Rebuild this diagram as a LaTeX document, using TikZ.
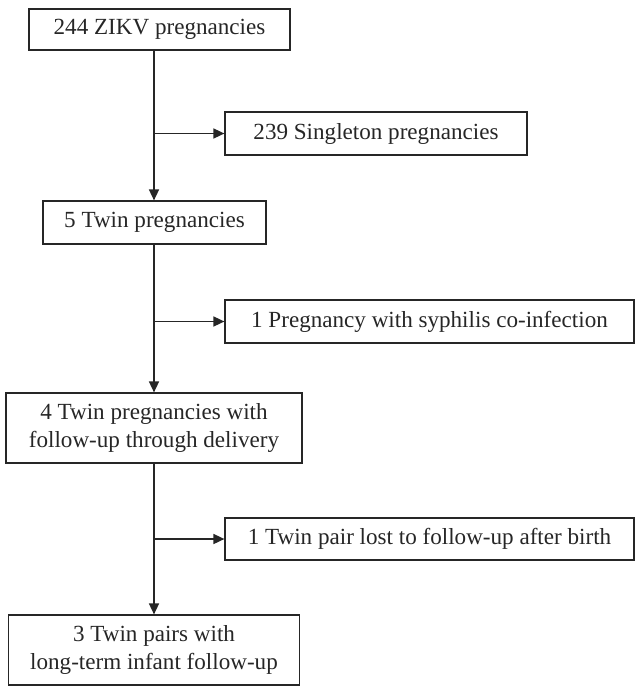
\documentclass[tikz,border=0pt]{standalone}
\usepackage{fontspec}
\setmainfont{Liberation Serif}
\usetikzlibrary{arrows.meta}
\begin{document}
\begin{tikzpicture}[x=1pt,y=-1pt,
  box/.style={draw=black!85, line width=1.2pt, inner sep=0pt, align=center,
    font=\fontsize{23.1}{28}\selectfont, text=black!85},
  arr/.style={draw=black!85, line width=1.6pt, -{Triangle[length=11pt,width=10pt]}}]
\useasboundingbox (0,0) rectangle (635,686);
\node[box, minimum width=261pt, minimum height=41pt] (A) at (159.5,29.5) {244 ZIKV pregnancies};
\node[box, minimum width=302pt, minimum height=43pt] (B) at (376,133.5) {239 Singleton pregnancies};
\node[box, minimum width=223pt, minimum height=43pt] (C) at (154.5,222.5) {5 Twin pregnancies};
\node[box, minimum width=409pt, minimum height=43pt] (D) at (429.5,321.5) {1 Pregnancy with syphilis co-infection};
\node[box, minimum width=296pt, minimum height=70pt] (E) at (154,428) {4 Twin pregnancies with\\follow-up through delivery};
\node[box, minimum width=409pt, minimum height=42pt] (F) at (429.5,539) {1 Twin pair lost to follow-up after birth};
\node[box, minimum width=291pt, minimum height=70pt] (G) at (154,650) {3 Twin pairs with\\long-term infant follow-up};
\draw[arr] (A.south -| E.north) -- (C.north -| E.north);
\draw[arr] (B.west -| E.north) -- (B.west);
\draw[arr] (C.south -| E.north) -- (E.north);
\draw[arr] (D.west -| E.north) -- (D.west);
\draw[arr] (E.south) -- (G.north);
\draw[arr] (F.west -| E.north) -- (F.west);
\end{tikzpicture}
\end{document}
